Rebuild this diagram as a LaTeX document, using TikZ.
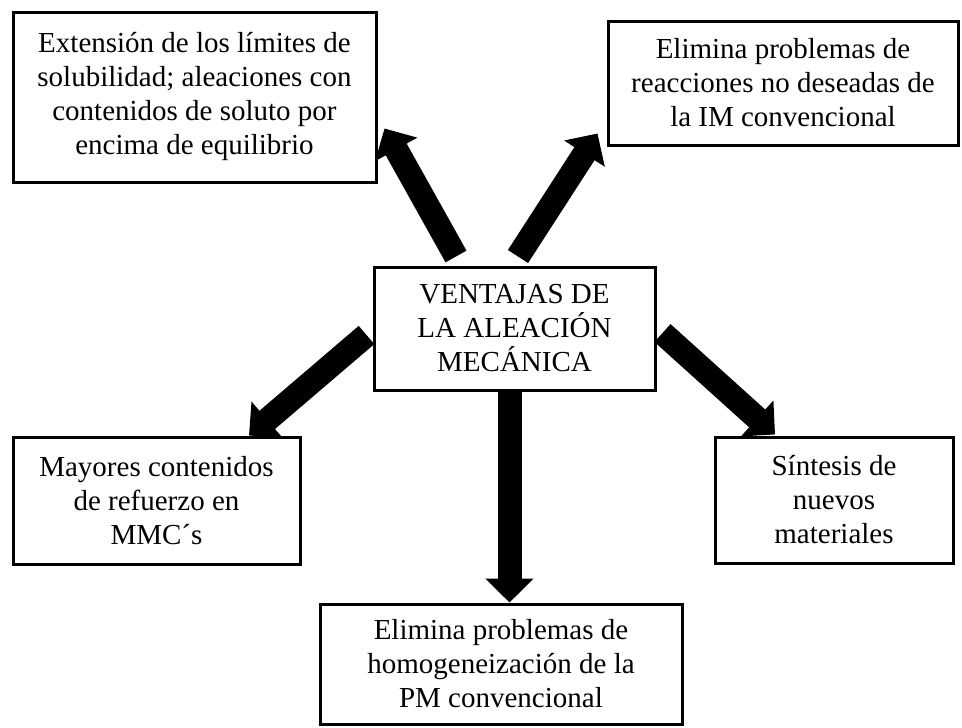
\documentclass[tikz,border=0pt]{standalone}
\usepackage{fontspec}
\setmainfont{Liberation Serif}
\usepackage{tikz}
\usetikzlibrary{arrows.meta}

\begin{document}
\begin{tikzpicture}[x=1pt,y=-1pt,
                    box/.style={draw,line width=3pt,align=center,inner sep=0pt,
                                font=\fontsize{29}{34}\selectfont},
                    fat/.style={draw,line width=24pt,
                                -{Triangle[width=47pt,length=24pt]}}]
\useasboundingbox (0,0) rectangle (962,728);
\node[box,minimum width=281pt,minimum height=123pt] (vent) at (514.5,328.5)
     {VENTAJAS DE\\LA ALEACIÓN\\MECÁNICA};
\node[box,minimum width=363pt,minimum height=170pt] (ext) at (194.5,97)
     {Extensión de los límites de\\solubilidad; aleaciones con\\contenidos de soluto por\\encima de equilibrio};
\node[box,minimum width=350pt,minimum height=124pt] (im) at (783,83)
     {Elimina problemas de\\reacciones no deseadas de\\la IM convencional};
\node[box,minimum width=287pt,minimum height=127pt] (mmc) at (156.5,500.5)
     {Mayores contenidos\\de refuerzo en\\MMC´s};
\node[box,minimum width=238pt,minimum height=126pt] (sint) at (834,500)
     {Síntesis de\\nuevos\\materiales};
\node[box,minimum width=362pt,minimum height=120pt] (pm) at (501,664)
     {Elimina problemas de\\homogeneización de la\\PM convencional};
\path ([xshift=-58.5pt,yshift=9pt]vent.north) edge [fat] ([xshift=7pt,yshift=55pt]ext.south east)
      ([xshift=3.5pt,yshift=9pt]vent.north)   edge [fat] ([xshift=-9pt,yshift=13pt]im.south west)
      ([xshift=-6pt,yshift=-6.5pt]vent.west)  edge [fat] ([xshift=92.5pt]mmc.north)
      ([xshift=6pt,yshift=-4.5pt]vent.east)   edge [fat] ([xshift=-59pt,yshift=1pt]sint.north)
      ([xshift=-5pt]vent.south)               edge [fat] ([xshift=8.5pt]pm.north);
\end{tikzpicture}
\end{document}
